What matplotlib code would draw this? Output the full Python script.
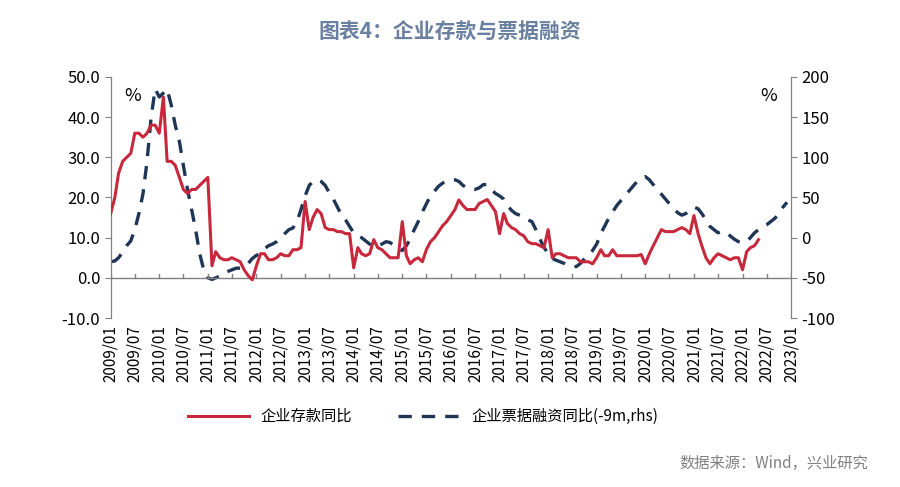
import matplotlib.pyplot as plt
import matplotlib.transforms as mtransforms
import numpy as np
import pandas as pd

plt.rcParams['font.family'] = ['Noto Sans CJK SC', 'DejaVu Sans']

# 企业存款同比 (%), monthly from 2009/01
deposit = [16, 20, 26, 29, 30, 31, 36, 36, 35, 36, 38, 38,
           36, 45, 29, 29, 28, 25, 22, 21, 22, 22, 23, 24,
           25, 3, 6.5, 5, 4.5, 4.5, 5, 4.5, 4, 2, 0.5, -0.5,
           3, 6, 6, 4.5, 4.5, 5, 6, 5.5, 5.5, 7, 7, 7.5,
           19, 12, 15, 17, 16, 12.5, 12, 12, 11.5, 11.5, 11, 11,
           2.5, 7.5, 6, 5.5, 6, 9.5, 7.5, 7, 6, 5, 5, 5,
           14, 5.5, 3.5, 4.5, 5, 4, 7, 9, 10, 11.5, 13, 14,
           15.5, 17, 19.4, 18, 17, 17, 17, 18.5, 19, 19.5, 18, 16.5,
           11, 16, 13.5, 12.5, 12, 11, 10.5, 9, 8.5, 8.5, 8, 7.5,
           12, 5, 6, 6, 5.5, 5, 5, 5, 4, 4, 4, 3.5,
           5, 7, 5.5, 5.5, 7, 5.5, 5.5, 5.5, 5.5, 5.5, 5.5, 5.8,
           3.5, 6, 8, 10, 12, 11.5, 11.5, 11.5, 12, 12.5, 12, 11,
           15.5, 11, 8, 5, 3.5, 5, 6, 5.5, 5, 4.5, 5, 5,
           2, 6.5, 7.5, 8, 9.5]

# 企业票据融资同比(-9m, rhs) (%), monthly from 2009/01
bills = [-30, -29, -25, -18, -10, -4, 10, 30, 55, 95, 150, 185,
         175, 180, 185, 165, 140, 120, 90, 60, 35, 10, -20, -40,
         -50, -52, -50, -48, -44, -42, -40, -38, -38, -36, -32, -26,
         -22, -20, -14, -10, -8, -5, 0, 5, 10, 12, 20, 35,
         52, 65, 70, 72, 70, 65, 56, 48, 38, 28, 22, 14,
         6, 2, 0, -4, -8, -11, -10, -8, -5, -6, -10, -14,
         -16, -10, -2, 10, 20, 32, 42, 52, 58, 64, 68, 70,
         72, 72, 70, 65, 62, 60, 60, 62, 66, 66, 60, 55,
         52, 48, 40, 34, 30, 28, 26, 22, 20, 10, -2, -12,
         -20, -26, -28, -30, -32, -35, -36, -36, -32, -26, -20, -16,
         -8, 5, 14, 24, 32, 40, 46, 52, 58, 64, 70, 74,
         76, 72, 66, 60, 54, 48, 42, 36, 31, 28, 30, 34,
         38, 36, 30, 22, 14, 10, 6, 8, 6, 2, -2, -5,
         -6, -5, 0, 6, 10, 14, 16, 20, 24, 30, 38, 44]

dep_dates = pd.date_range('2009-01-01', periods=len(deposit), freq='MS')
bill_dates = pd.date_range('2009-01-01', periods=len(bills), freq='MS')
tick_dates = pd.date_range('2009-01-01', '2023-01-01', freq='6MS')
tick_labels = [d.strftime('%Y/%m') for d in tick_dates]

red = '#c8283c'
navy = '#1f3556'

fig = plt.figure(figsize=(9, 4.87), dpi=100)
ax = fig.add_axes([0.123, 0.347, 0.756, 0.495])
ax2 = ax.twinx()

ax.plot(dep_dates, deposit, color=red, lw=2.2, zorder=3)
ax2.plot(bill_dates, bills, color=navy, lw=2.4, dashes=(4, 3))
ax.set_zorder(ax2.get_zorder() + 1)
ax.patch.set_visible(False)

ax.set_ylim(-10, 50)
ax2.set_ylim(-100, 200)
ax.set_xlim(tick_dates[0], tick_dates[-1])
ax.set_yticks(np.arange(-10, 51, 10))
ax.set_yticklabels([f'{v:.1f}' for v in np.arange(-10, 51, 10)], fontsize=12)
ax2.set_yticks(np.arange(-100, 201, 50))
ax2.set_yticklabels([str(v) for v in np.arange(-100, 201, 50)], fontsize=12)

for a in (ax, ax2):
    a.spines['top'].set_visible(False)
    a.spines['bottom'].set_visible(False)
    a.spines['left'].set_color('#808080')
    a.spines['right'].set_color('#808080')
    a.tick_params(axis='y', direction='out', length=4, color='#808080')

# x-axis line drawn at zero with ticks
ax.axhline(0, color='#808080', lw=1, zorder=2)
ax.set_xticks(tick_dates)
ax.tick_params(axis='x', length=0, labelbottom=False)
for d in tick_dates:
    ax.plot([d, d], [0, 1], color='#808080', lw=1, zorder=2)
trans = mtransforms.blended_transform_factory(ax.transData, ax.transAxes)
for d, lab in zip(tick_dates, tick_labels):
    ax.text(d, -0.03, lab, transform=trans, rotation=90, ha='center', va='top', fontsize=11)

ax.text(0.02, 0.96, '%', transform=ax.transAxes, fontsize=13, va='top')
ax2.text(0.98, 0.96, '%', transform=ax.transAxes, fontsize=13, va='top', ha='right')

fig.text(0.5, 0.92, '图表4：企业存款与票据融资', ha='center', fontsize=15,
         fontweight='bold', color='#6a80a0')

h1, = ax.plot([], [], color=red, lw=2.2)
h2, = ax.plot([], [], color=navy, lw=2.4, dashes=(4, 3))
fig.legend([h1, h2], ['企业存款同比', '企业票据融资同比(-9m,rhs)'], loc='center',
           bbox_to_anchor=(0.47, 0.145), ncol=2, frameon=False, fontsize=11,
           handlelength=4, columnspacing=3)

fig.text(0.965, 0.04, '数据来源：Wind，兴业研究', ha='right', fontsize=11, color='#808080')

fig.savefig('out.png', dpi=100)
